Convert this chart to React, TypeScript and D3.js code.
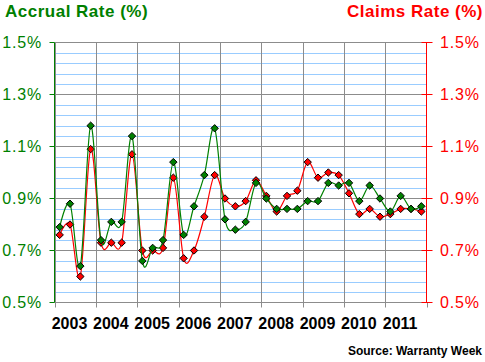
import { useMemo } from 'react';
import { scaleLinear, line, curveCardinal, range } from 'd3';

const YEARS = [2003, 2004, 2005, 2006, 2007, 2008, 2009, 2010, 2011];
// quarterly, 2003 Q1 .. 2011 Q4
const ACCRUAL = [
  0.79, 0.88, 0.64, 1.18,
  0.74, 0.81, 0.81, 1.14,
  0.66, 0.71, 0.74, 1.04,
  0.76, 0.87, 0.99, 1.17,
  0.82, 0.78, 0.81, 0.96,
  0.9, 0.86, 0.86, 0.86,
  0.89, 0.89, 0.96, 0.95,
  0.96, 0.89, 0.95, 0.9,
  0.85, 0.91, 0.86, 0.87,
];
const CLAIMS = [
  0.76, 0.8, 0.6, 1.09,
  0.73, 0.73, 0.73, 1.07,
  0.7, 0.7, 0.71, 0.98,
  0.67, 0.7, 0.83, 0.99,
  0.9, 0.87, 0.89, 0.97,
  0.91, 0.85, 0.91, 0.93,
  1.04, 0.98, 1.0, 0.99,
  0.92, 0.84, 0.86, 0.83,
  0.84, 0.86, 0.86, 0.85,
];
const Y_TICKS = [0.5, 0.7, 0.9, 1.1, 1.3, 1.5];
const Y_TICK_LABELS = ['0.5%', '0.7%', '0.9%', '1.1%', '1.3%', '1.5%'];

const W = 485;
const H = 362;
const L = 54.5;
const R = 426.5;
const T = 42.5;
const B = 302.5;
const GREEN = '#008000';
const RED = '#ff0000';
const FONT = 'Arial, "Liberation Sans", sans-serif';

export default function App() {
  const x = useMemo(() => scaleLinear().domain([2003, 2012]).range([L, R]), []);
  const y = useMemo(() => scaleLinear().domain([0.5, 1.5]).range([B, T]), []);

  const pts = (vals: number[]) =>
    vals.map((v, i) => [x(2003 + (i + 0.5) / 4), y(v)] as [number, number]);
  const gen = line().curve(curveCardinal.tension(0));
  const accPts = pts(ACCRUAL);
  const clmPts = pts(CLAIMS);

  // light blue minor lines every 0.04%, gray major every 0.2%
  const minor = range(0, 26)
    .filter((i) => i % 5 !== 0)
    .map((i) => 0.5 + i * 0.04);

  const diamond = (cx: number, cy: number, r = 3.7) =>
    `M${cx},${cy - r}L${cx + r},${cy}L${cx},${cy + r}L${cx - r},${cy}Z`;

  return (
    <svg
      width={W}
      height={H}
      style={{ position: 'absolute', left: 0, top: 0, background: '#fff' }}
      fontFamily={FONT}
    >
      <rect width={W} height={H} fill="#fff" />
      {minor.map((v) => (
        <line key={v} x1={L} x2={R} y1={Math.round(y(v)) + 0.5} y2={Math.round(y(v)) + 0.5} stroke="#99ccff" />
      ))}
      {Y_TICKS.map((v) => (
        <line key={v} x1={L} x2={R} y1={y(v)} y2={y(v)} stroke="#8c8c8c" />
      ))}
      {YEARS.map((yr) => (
        <line key={yr} x1={Math.round(x(yr)) + 0.5} x2={Math.round(x(yr)) + 0.5} y1={T} y2={B} stroke="#8c8c8c" />
      ))}
      {/* bottom axis ticks */}
      {[...YEARS, 2012].map((yr) => (
        <line key={yr} x1={Math.round(x(yr)) + 0.5} x2={Math.round(x(yr)) + 0.5} y1={B} y2={B + 5} stroke="#8c8c8c" />
      ))}
      {YEARS.map((yr) => (
        <text key={yr} x={x(yr) + 15} y={329} textAnchor="middle" fontSize={16} fontWeight="bold" fill="#000">
          {yr}
        </text>
      ))}

      {/* left axis */}
      <line x1={L} x2={L} y1={T} y2={B} stroke={GREEN} />
      {Y_TICKS.map((v, i) => (
        <g key={v}>
          <line x1={L - 5} x2={L} y1={y(v)} y2={y(v)} stroke={GREEN} />
          <text x={42} y={y(v) + 5.5} textAnchor="end" fontSize={16} letterSpacing={0.8} fill={GREEN}>
            {Y_TICK_LABELS[i]}
          </text>
        </g>
      ))}
      {/* right axis */}
      <line x1={R} x2={R} y1={T} y2={B} stroke={RED} />
      {Y_TICKS.map((v, i) => (
        <g key={v}>
          <line x1={R - 5} x2={R + 6} y1={y(v)} y2={y(v)} stroke={RED} />
          <text x={440} y={y(v) + 5.5} textAnchor="start" fontSize={16} letterSpacing={0.8} fill={RED}>
            {Y_TICK_LABELS[i]}
          </text>
        </g>
      ))}

      <path d={gen(clmPts) ?? ''} fill="none" stroke={RED} strokeWidth={1.2} />
      {clmPts.map(([cx, cy], i) => (
        <path key={i} d={diamond(cx, cy)} fill={RED} stroke="#000" strokeWidth={1} />
      ))}
      <path d={gen(accPts) ?? ''} fill="none" stroke={GREEN} strokeWidth={1.2} />
      {accPts.map(([cx, cy], i) => (
        <path key={i} d={diamond(cx, cy)} fill={GREEN} stroke="#000" strokeWidth={1} />
      ))}

      <text x={5} y={17} fontSize={17} fontWeight="bold" letterSpacing={0.5} fill={GREEN}>
        Accrual Rate (%)
      </text>
      <text x={483} y={17} textAnchor="end" fontSize={17} fontWeight="bold" letterSpacing={0.5} fill={RED}>
        Claims Rate (%)
      </text>
      <text x={482} y={355} textAnchor="end" fontSize={12} fontWeight="bold" fill="#000">
        Source: Warranty Week
      </text>
    </svg>
  );
}
